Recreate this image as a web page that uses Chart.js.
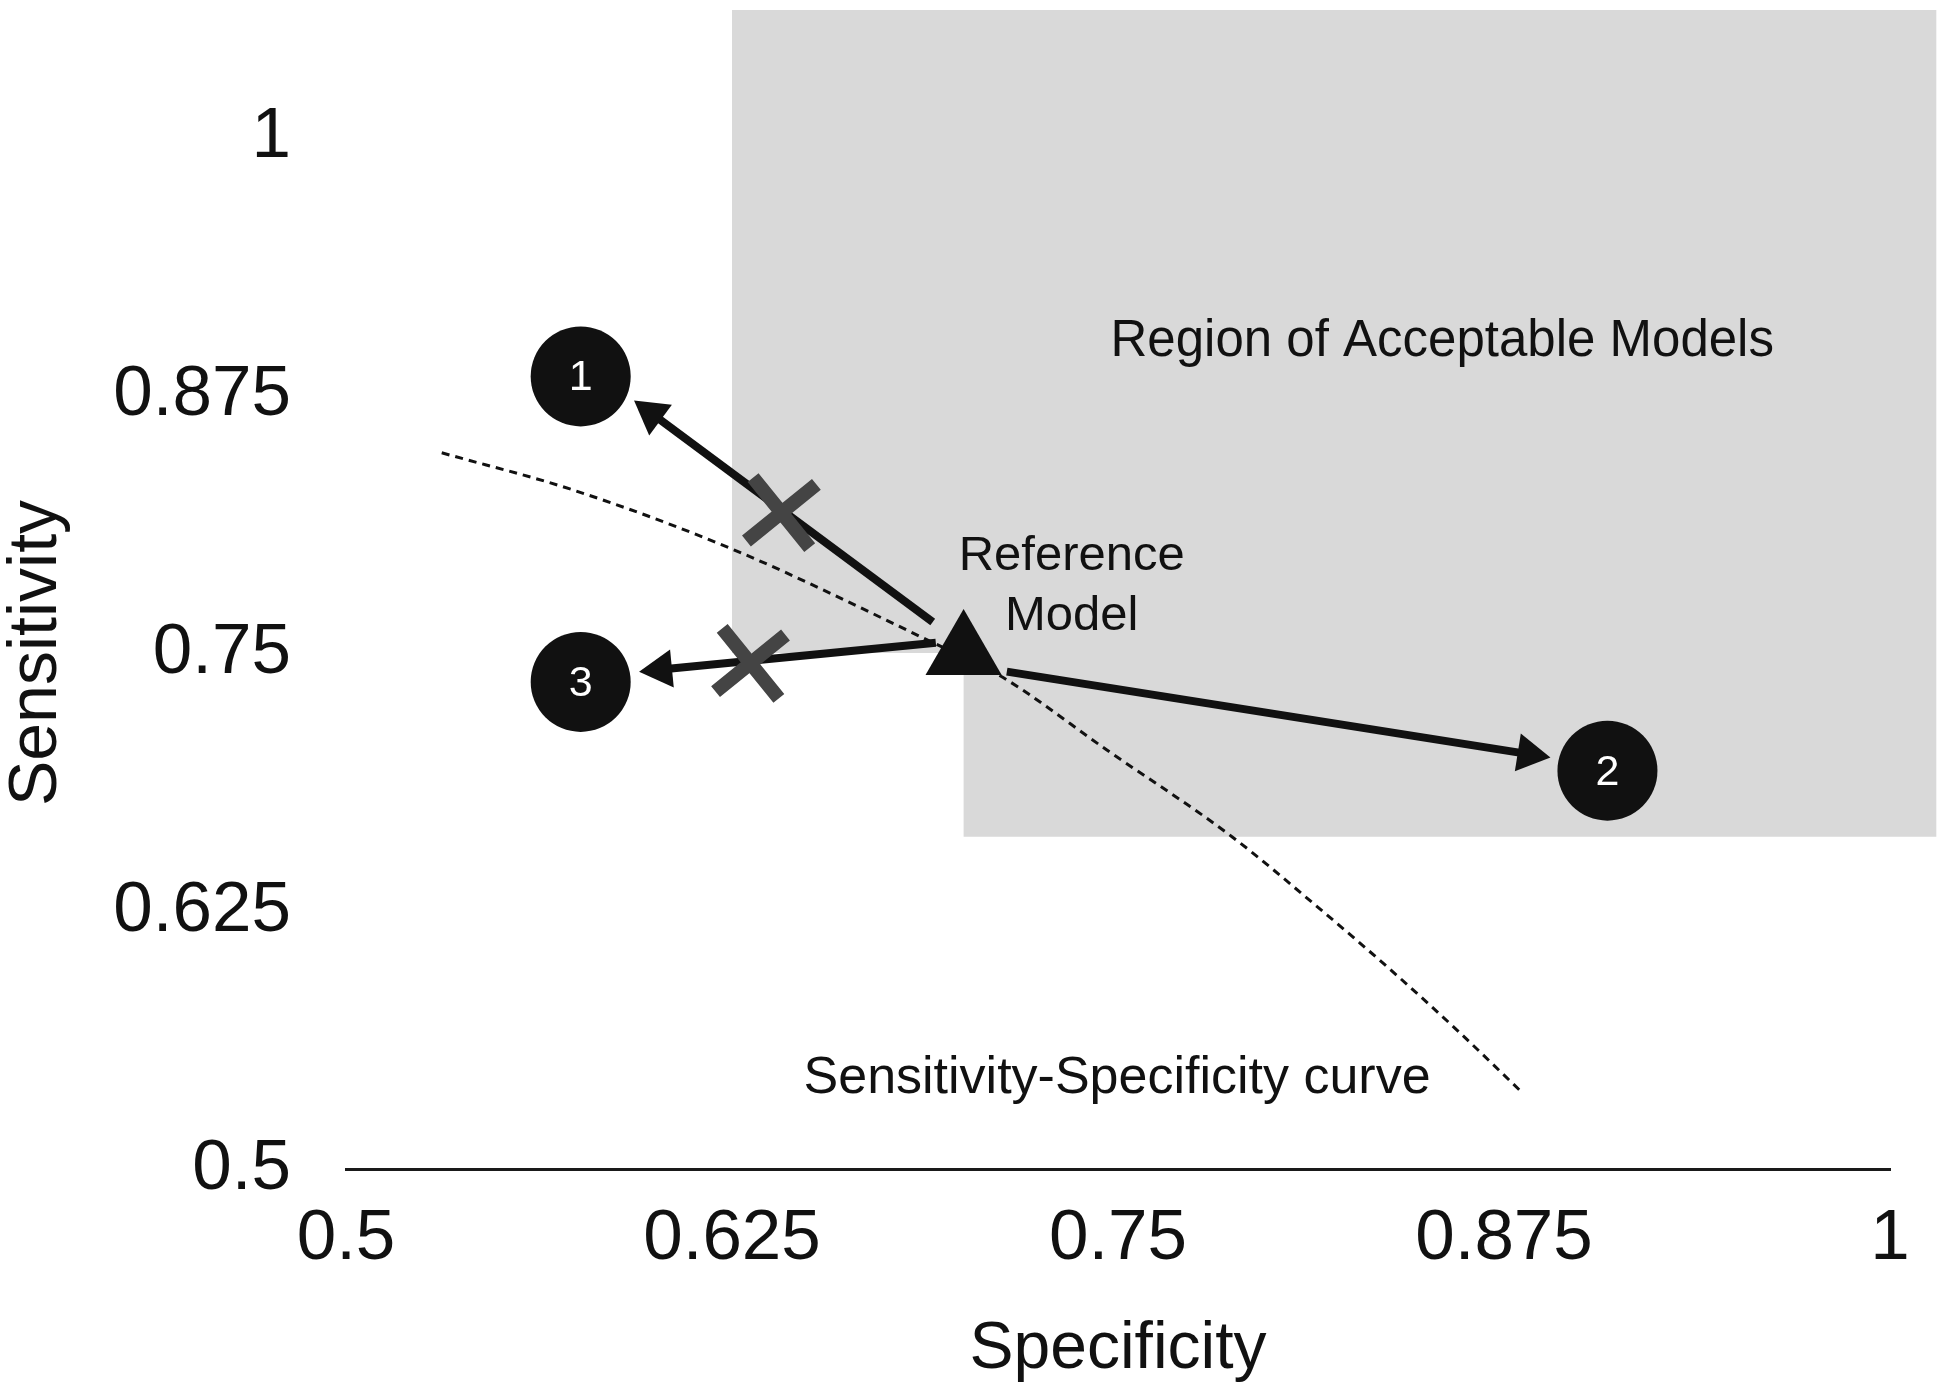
<!DOCTYPE html>
<html>
<head>
<meta charset="utf-8">
<script src="https://cdn.jsdelivr.net/npm/chart.js@4.4.0/dist/chart.umd.min.js"></script>
<style>
    html, body { margin: 0; padding: 0; background: #fff; }
    #grafico { display: block; }
</style>
</head>
<body>
<canvas id="grafico" width="1950" height="1397"></canvas>
<script>
// Eixos
const ticksEspecificidade = [0.5, 0.625, 0.75, 0.875, 1];
const rotulosEspecificidade = ['0.5', '0.625', '0.75', '0.875', '1'];
const ticksSensibilidade = [0.5, 0.625, 0.75, 0.875, 1];
const rotulosSensibilidade = ['0.5', '0.625', '0.75', '0.875', '1'];

// Curva sensibilidade-especificidade (pontilhada)
const curvaEspecificidade = [0.531, 0.5735, 0.6256, 0.6901, 0.7118, 0.7464, 0.7869, 0.8138, 0.8413, 0.8607, 0.8802];
const curvaSensibilidade = [0.847, 0.829, 0.800, 0.755, 0.739, 0.703, 0.661, 0.628, 0.5925, 0.566, 0.538];

// Modelo de referencia
const referenciaEspecificidade = [0.70];
const referenciaSensibilidade = [0.75];

// Modelos candidatos 1, 2, 3
const modelos = ['1', '2', '3'];
const modelosEspecificidade = [0.576, 0.9085, 0.576];
const modelosSensibilidade = [0.884, 0.693, 0.736];

// Setas: da referencia ate cada modelo
const setaInicioEsp = [0.690, 0.714, 0.691];
const setaInicioSens = [0.765, 0.741, 0.755];
const setaFimEsp = [0.599, 0.883, 0.602];
const setaFimSens = [0.866, 0.701, 0.742];

// Modelos rejeitados (X cinza)
const rejeitadoEsp = [0.641, 0.631];
const rejeitadoSens = [0.818, 0.745];

// Regiao de modelos aceitaveis (dois retangulos)
const regiaoEspMin = [0.625, 0.70];
const regiaoSensMin = [0.75, 0.661];
const regiaoEspMax = 1.015;
const regiaoSensMax = 1.0615;

const fonte = "'Liberation Sans', Arial, Helvetica, sans-serif";
Chart.defaults.font.family = fonte;

// Textos dentro do grafico
const notas = [
    { texto: 'Region of Acceptable Models', x: 0.855, y: 0.894, tamanho: 51 },
    { texto: 'Reference', x: 0.735, y: 0.790, tamanho: 49 },
    { texto: 'Model', x: 0.735, y: 0.761, tamanho: 49 },
    { texto: 'Sensitivity-Specificity curve', x: 0.7497, y: 0.537, tamanho: 52 }
];

const pontos = (xs, ys) => xs.map((x, i) => ({ x: x, y: ys[i] }));

// Angulo da ponta da seta, calculado em pixels
function anguloSeta(ctx) {
    const d = ctx.dataset.data;
    const sx = ctx.chart.scales.x, sy = ctx.chart.scales.y;
    const dx = sx.getPixelForValue(d[1].x) - sx.getPixelForValue(d[0].x);
    const dy = sy.getPixelForValue(d[1].y) - sy.getPixelForValue(d[0].y);
    return Math.atan2(dx, -dy) * 180 / Math.PI;
}

const setas = modelos.map((m, i) => ({
    label: 'Seta ' + m,
    data: [
        { x: setaInicioEsp[i], y: setaInicioSens[i] },
        { x: setaFimEsp[i], y: setaFimSens[i] }
    ],
    showLine: true,
    borderColor: '#111',
    borderWidth: 8,
    pointStyle: 'triangle',
    pointRadius: [0, 22],
    pointBackgroundColor: '#111',
    pointBorderWidth: 0,
    pointRotation: anguloSeta,
    clip: false
}));

const pluginRegiao = {
    id: 'regiao',
    beforeDatasetsDraw(chart) {
        const { ctx, scales: { x, y } } = chart;
        ctx.save();
        ctx.fillStyle = '#d9d9d9';
        ctx.beginPath();
        for (let i = 0; i < regiaoEspMin.length; i++) {
            const x0 = x.getPixelForValue(regiaoEspMin[i]);
            const x1 = x.getPixelForValue(regiaoEspMax);
            const y0 = y.getPixelForValue(regiaoSensMax);
            const y1 = y.getPixelForValue(regiaoSensMin[i]);
            ctx.rect(x0, y0, x1 - x0, y1 - y0);
        }
        ctx.fill();
        ctx.restore();
    }
};

const pluginTextos = {
    id: 'textos',
    afterDatasetsDraw(chart) {
        const { ctx, scales: { x, y } } = chart;
        ctx.save();
        ctx.fillStyle = '#111';
        ctx.textAlign = 'center';
        ctx.textBaseline = 'alphabetic';
        notas.forEach(n => {
            ctx.font = n.tamanho + 'px ' + fonte;
            ctx.fillText(n.texto, x.getPixelForValue(n.x), y.getPixelForValue(n.y));
        });
        // numeros dentro dos circulos
        ctx.fillStyle = '#fff';
        ctx.font = '43px ' + fonte;
        ctx.textBaseline = 'middle';
        modelos.forEach((m, i) => {
            ctx.fillText(m, x.getPixelForValue(modelosEspecificidade[i]), y.getPixelForValue(modelosSensibilidade[i]) + 2);
        });
        ctx.restore();
    }
};

const ctx = document.getElementById('grafico').getContext('2d');
const chart = new Chart(ctx, {
    type: 'scatter',
    data: {
        datasets: [{
            label: 'Modelos',
            data: pontos(modelosEspecificidade, modelosSensibilidade),
            pointStyle: 'circle',
            pointRadius: 50,
            pointBackgroundColor: '#111',
            pointBorderWidth: 0,
            clip: false
        }, {
            label: 'Reference Model',
            data: pontos(referenciaEspecificidade, referenciaSensibilidade),
            pointStyle: 'triangle',
            pointRadius: 44,
            pointBackgroundColor: '#111',
            pointBorderWidth: 0,
            clip: false
        }, {
            label: 'Rejeitados',
            data: pontos(rejeitadoEsp, rejeitadoSens),
            pointStyle: 'crossRot',
            pointRadius: 45,
            pointRotation: 6,
            pointBorderColor: '#444',
            pointBorderWidth: 14,
            clip: false
        },
        ...setas,
        {
            label: 'Sensitivity-Specificity curve',
            data: pontos(curvaEspecificidade, curvaSensibilidade),
            showLine: true,
            borderColor: '#111',
            borderWidth: 3,
            borderDash: [8, 6],
            cubicInterpolationMode: 'monotone',
            pointRadius: 0,
            clip: false
        }]
    },
    options: {
        responsive: false,
        animation: false,
        events: [],
        layout: { padding: { left: 0, top: 137, right: 60, bottom: 0 } },
        plugins: {
            legend: { display: false },
            tooltip: { enabled: false }
        },
        scales: {
            x: {
                type: 'linear',
                min: 0.5,
                max: 1,
                afterBuildTicks: s => { s.ticks = ticksEspecificidade.map(v => ({ value: v })); },
                afterFit: s => { s.height = 228; },
                grid: { display: false, drawTicks: false },
                border: { display: true, color: '#1a1a1a', width: 3 },
                ticks: {
                    autoSkip: false,
                    maxRotation: 0,
                    padding: 35,
                    color: '#111',
                    font: { size: 71, lineHeight: 1 },
                    callback: (v, i) => rotulosEspecificidade[i]
                },
                title: {
                    display: true,
                    text: 'Specificity',
                    color: '#111',
                    font: { size: 66, lineHeight: 1 },
                    padding: { top: 0, bottom: 14 }
                }
            },
            y: {
                type: 'linear',
                min: 0.5,
                max: 1,
                afterBuildTicks: s => { s.ticks = ticksSensibilidade.map(v => ({ value: v })); },
                afterFit: s => { s.width = 346; },
                grid: { display: false, drawTicks: false },
                border: { display: false },
                ticks: {
                    autoSkip: false,
                    padding: 55,
                    color: '#111',
                    font: { size: 71, lineHeight: 1 },
                    callback: (v, i) => rotulosSensibilidade[i]
                },
                title: {
                    display: true,
                    text: 'Sensitivity',
                    color: '#111',
                    font: { size: 68, lineHeight: 1 },
                    padding: { top: 3, bottom: 0 }
                }
            }
        }
    },
    plugins: [pluginRegiao, pluginTextos]
});
</script>
</body>
</html>
